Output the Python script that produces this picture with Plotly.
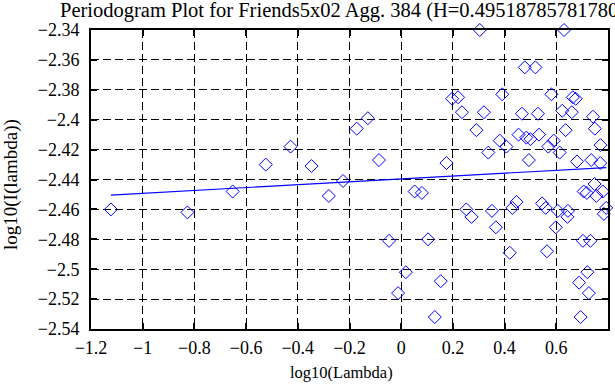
import plotly.graph_objects as go

# Periodogram points: log10(lambda), log10(I(lambda))
log_lambda = [-1.123, -0.827, -0.652, -0.524, -0.428, -0.347, -0.280, -0.225, -0.172, -0.129,
              -0.086, -0.047, -0.012, 0.018, 0.052, 0.080, 0.104, 0.130, 0.153, 0.175,
              0.197, 0.220, 0.235, 0.252, 0.272, 0.291, 0.304, 0.320, 0.337, 0.351,
              0.366, 0.381, 0.391, 0.407, 0.420, 0.430, 0.446, 0.454, 0.467, 0.478,
              0.484, 0.494, 0.500, 0.519, 0.529, 0.533, 0.545, 0.559, 0.564, 0.569,
              0.581, 0.590, 0.598, 0.606, 0.613, 0.623, 0.630, 0.636, 0.643, 0.645,
              0.660, 0.664, 0.675, 0.680, 0.688, 0.694, 0.703, 0.706, 0.718, 0.720,
              0.726, 0.732, 0.735, 0.742, 0.748, 0.749, 0.755, 0.770, 0.771, 0.780,
              0.784, 0.793]
log_I = [-2.460, -2.462, -2.448, -2.430, -2.418, -2.431, -2.451, -2.441, -2.406, -2.399,
         -2.427, -2.481, -2.516, -2.502, -2.448, -2.449, -2.480, -2.532, -2.508, -2.429,
         -2.386, -2.385, -2.395, -2.460, -2.465, -2.407, -2.340, -2.395, -2.422, -2.461,
         -2.472, -2.414, -2.383, -2.418, -2.489, -2.459, -2.455, -2.410, -2.396, -2.365,
         -2.412, -2.427, -2.413, -2.365, -2.396, -2.410, -2.456, -2.459, -2.488, -2.418,
         -2.383, -2.414, -2.472, -2.461, -2.422, -2.394, -2.340, -2.407, -2.465, -2.461,
         -2.395, -2.385, -2.386, -2.428, -2.509, -2.532, -2.481, -2.448, -2.449, -2.502,
         -2.516, -2.481, -2.427, -2.398, -2.443, -2.406, -2.451, -2.429, -2.417, -2.448,
         -2.463, -2.459]

# Least-squares fit line endpoints
fit_x = [-1.123, 0.793]
fit_y = [-2.4504, -2.4320]

title_text = "Periodogram Plot for Friends5x02 Agg. 384 (H=0.49518785781780)"
x_label = "log10(Lambda)"
y_label = "log10(I(lambda))"
x_ticks = [-1.2, -1, -0.8, -0.6, -0.4, -0.2, 0, 0.2, 0.4, 0.6, 0.8]
y_ticks = [-2.34, -2.36, -2.38, -2.4, -2.42, -2.44, -2.46, -2.48, -2.5, -2.52, -2.54]

FONT = "Liberation Serif, Times New Roman, serif"

fig = go.Figure()
fig.add_trace(go.Scatter(
    x=log_lambda, y=log_I, mode="markers",
    marker=dict(symbol="diamond-open", size=10, color="#0000ff", line=dict(width=1, color="#0000ff")),
    cliponaxis=False, showlegend=False))
fig.add_trace(go.Scatter(
    x=fit_x, y=fit_y, mode="lines",
    line=dict(color="#0000ff", width=1.2), showlegend=False))

axis_common = dict(
    showgrid=True, gridcolor="black", gridwidth=1, griddash="8px,4px",
    showline=True, linecolor="black", linewidth=2, mirror="ticks",
    ticks="inside", ticklen=6, tickwidth=2, tickcolor="black",
    zeroline=False, automargin=False,
    tickfont=dict(family=FONT, size=18, color="black"),
)

fig.update_xaxes(range=[-1.2, 0.8], tickvals=x_ticks, ticklabelstandoff=1, **axis_common)
fig.update_yaxes(range=[-2.54, -2.34], tickvals=y_ticks, ticklabelstandoff=6, **axis_common)

fig.update_layout(
    width=615, height=385,
    margin=dict(l=91, r=7, t=30, b=56),
    paper_bgcolor="white", plot_bgcolor="white",
    title=dict(text=title_text, font=dict(family=FONT, size=20.5, color="black"),
               xref="container", x=60/615, xanchor="left", yref="container", y=1 - 10/385, yanchor="middle"),
    annotations=[
        dict(text=x_label, xref="paper", yref="paper", x=(341 - 91) / 517, y=-(373 - 329) / 299,
             xanchor="center", yanchor="middle", showarrow=False,
             font=dict(family=FONT, size=16.5, color="black")),
        dict(text=y_label, xref="paper", yref="paper", x=-(91 - 11) / 517, y=1 - (185 - 30) / 299,
             xanchor="center", yanchor="middle", textangle=-90, showarrow=False,
             font=dict(family=FONT, size=19, color="black")),
    ],
)

fig.write_html("out.html", config={"displayModeBar": False},
               post_script="document.body.style.margin='0';document.body.style.overflow='hidden';")
